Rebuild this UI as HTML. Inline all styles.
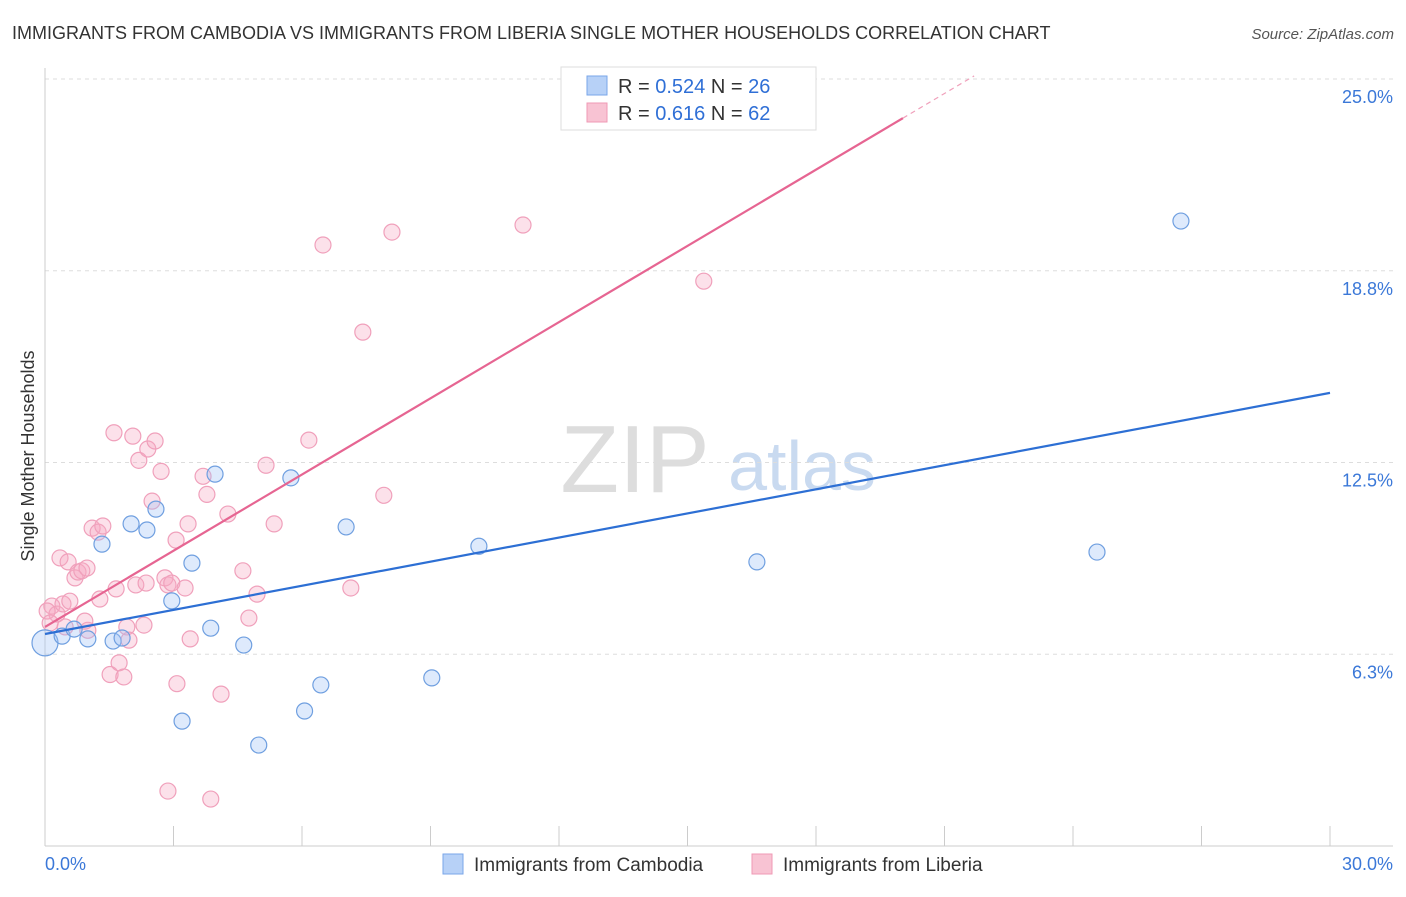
<!DOCTYPE html>
<html><head><meta charset="utf-8"><style>
body{margin:0;background:#fff;font-family:"Liberation Sans",sans-serif}
svg text{font-family:"Liberation Sans",sans-serif}
</style></head><body>
<svg id="c" width="1406" height="892" xmlns="http://www.w3.org/2000/svg">
<text x="12" y="39" font-size="18" fill="#333">IMMIGRANTS FROM CAMBODIA VS IMMIGRANTS FROM LIBERIA SINGLE MOTHER HOUSEHOLDS CORRELATION CHART</text>
<text x="1394" y="39" font-size="15" fill="#555" text-anchor="end" font-style="italic">Source: ZipAtlas.com</text>
<text x="0" y="0" transform="translate(34,456) rotate(-90)" font-size="18" fill="#333" text-anchor="middle">Single Mother Households</text>
<text x="635" y="492" font-size="96" fill="#ddd" text-anchor="middle" font-family="Liberation Serif">ZIP</text>
<text x="802" y="490" font-size="70" fill="#c9daf0" text-anchor="middle">atlas</text>
<g id="grid"></g><g id="pts"></g><g id="lines"></g>
<g>
<rect x="561" y="67" width="255" height="63" fill="#fff" stroke="#ddd"/>
<rect x="587" y="76" width="20" height="19" fill="#b7d1f7" stroke="#7aa6e8"/>
<rect x="587" y="103" width="20" height="19" fill="#f8c3d3" stroke="#ef9ab5"/>
<text x="618" y="93" font-size="20" fill="#333">R = <tspan fill="#2f6fd6">0.524</tspan>   N = <tspan fill="#2f6fd6">26</tspan></text>
<text x="618" y="120" font-size="20" fill="#333">R =  <tspan fill="#2f6fd6">0.616</tspan>   N = <tspan fill="#2f6fd6">62</tspan></text>
</g>
<g>
<rect x="443" y="854" width="20" height="20" fill="#b7d1f7" stroke="#7aa6e8"/>
<text x="474" y="871" font-size="19" fill="#333">Immigrants from Cambodia</text>
<rect x="752" y="854" width="20" height="20" fill="#f8c3d3" stroke="#ef9ab5"/>
<text x="783" y="871" font-size="19" fill="#333">Immigrants from Liberia</text>
</g>
</svg>
<script>
const yTicks=[6.25,12.5,18.75,25];
const yTickLabels=["6.3%","12.5%","18.8%","25.0%"];
const xTickLabels=["0.0%","30.0%"];
const cambX=[0,0.4,0.68,1.0,1.33,1.59,1.8,2.01,2.38,2.59,2.96,3.2,3.43,3.87,3.97,4.64,4.99,5.74,6.06,6.44,7.03,9.03,10.13,16.62,24.56,26.52];
const cambY=[6.62,6.84,7.07,6.75,9.84,6.68,6.78,10.5,10.3,10.98,7.99,4.07,9.22,7.1,12.12,6.55,3.29,12.0,4.4,5.25,10.4,5.48,9.77,9.26,9.58,20.37];
const libX=[0.16,0.28,0.42,0.35,0.54,0.7,0.77,0.86,0.98,1.0,1.1,1.24,1.28,1.35,0.93,1.52,1.61,1.66,1.73,1.84,1.91,1.96,2.05,2.12,2.19,2.31,2.36,2.4,2.5,2.57,2.71,2.8,2.87,2.96,3.06,3.08,3.27,3.34,3.39,2.87,3.69,3.78,3.87,4.11,4.27,4.62,4.76,4.95,5.16,5.35,6.16,6.49,7.14,7.42,7.91,8.1,11.16,15.38,0.05,0.12,0.58,0.47];
const libY=[7.82,7.56,7.89,9.39,9.26,8.74,8.93,8.97,9.06,7.03,10.36,10.23,8.05,10.43,7.33,5.59,13.47,8.38,5.97,5.51,7.14,6.71,13.36,8.51,12.57,7.2,8.57,12.94,11.24,13.2,12.21,8.74,8.51,8.57,9.97,5.29,8.41,10.5,6.75,1.79,12.05,11.46,1.53,4.95,10.82,8.97,7.43,8.21,12.41,10.5,13.23,19.59,8.41,16.75,11.43,20.01,20.24,18.41,7.66,7.27,7.98,7.14];
const blueLine=[6.91,14.77];
const pinkIntercept=7.14, pinkSlope=0.828;
const NS="http://www.w3.org/2000/svg";
const X=v=>45+v/30*1285, Y=v=>846-v/25*767;
function mk(tag,attrs,parent){const e=document.createElementNS(NS,tag);for(const k in attrs)e.setAttribute(k,attrs[k]);document.getElementById(parent).appendChild(e);return e;}
yTicks.forEach((t,i)=>{
 const g=mk('line',{x1:45,x2:1393,y1:Y(t),y2:Y(t),stroke:'#ddd','stroke-dasharray':'4,4'},'grid');
 
 
 const tx=mk('text',{x:1393,y:Y(t)+24,'font-size':18,fill:'#3b78d8','text-anchor':'end'},'grid');tx.textContent=yTickLabels[i];
 
 
});
const ax=mk('line',{x1:45,x2:45,y1:68,y2:846,stroke:'#ccc'},'grid');


const bx=mk('line',{x1:45,x2:1393,y1:846,y2:846,stroke:'#ccc'},'grid');


for(let i=0;i<=10;i++){const t=mk('line',{x1:X(i*3),x2:X(i*3),y1:826,y2:846,stroke:'#ccc'},'grid');
 
 }
[[0,'start',45],[30,'end',1393]].forEach((d,i)=>{const t=mk('text',{x:d[2],y:870,'font-size':18,fill:'#3b78d8','text-anchor':d[1]},'grid');t.textContent=xTickLabels[i];
 
 });
libX.forEach((x,i)=>{const c=mk('circle',{cx:X(x),cy:Y(libY[i]),r:8,fill:'rgba(246,170,195,0.35)',stroke:'#f0a0bb','stroke-width':1.2},'pts');
 
 });
cambX.forEach((x,i)=>{const c=mk('circle',{cx:X(x),cy:Y(cambY[i]),r:i==0?13:8,fill:'rgba(160,195,245,0.35)',stroke:'#6f9fe0','stroke-width':1.2},'pts');
 
 });
const bl=mk('line',{x1:X(0),y1:Y(blueLine[0]),x2:X(30),y2:Y(blueLine[1]),stroke:'#2d6fd4','stroke-width':2.2},'lines');


const xs=20.03, xe=(25.1-pinkIntercept)/pinkSlope;
const pl=mk('line',{x1:X(0),y1:Y(pinkIntercept),x2:X(xs),y2:Y(pinkIntercept+pinkSlope*xs),stroke:'#e66592','stroke-width':2.2},'lines');


const pd=mk('line',{x1:X(xs),y1:Y(pinkIntercept+pinkSlope*xs),x2:X(xe),y2:Y(pinkIntercept+pinkSlope*xe),stroke:'#f0a0bb','stroke-width':1.2,'stroke-dasharray':'5,4'},'lines');


</script>
</body></html>
